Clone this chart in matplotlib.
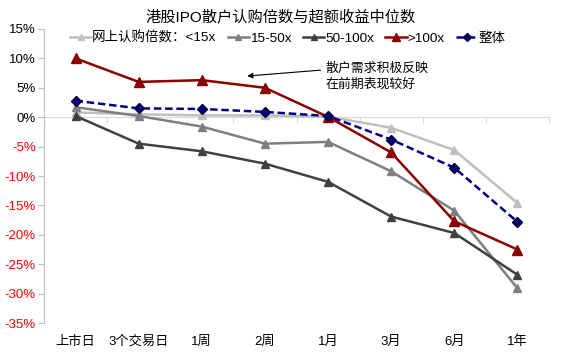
import matplotlib
matplotlib.use('Agg')
import matplotlib.pyplot as plt
import numpy as np

plt.rcParams['font.family'] = ['Liberation Sans', 'Noto Sans CJK SC', 'DejaVu Sans']

categories = ['上市日', '3个交易日', '1周', '2周', '1月', '3月', '6月', '1年']
lt15 = [0.8, 0.5, 0.3, 0.3, 0.1, -1.8, -5.6, -14.6]
s15_50 = [1.7, 0.2, -1.6, -4.5, -4.2, -9.2, -15.9, -29.1]
s50_100 = [0.2, -4.5, -5.8, -7.9, -11.0, -16.9, -19.7, -26.8]
gt100 = [10.0, 6.0, 6.3, 5.0, 0.05, -6.0, -17.7, -22.5]
overall = [2.8, 1.5, 1.4, 0.9, 0.2, -3.8, -8.6, -17.8]
yticks = [15, 10, 5, 0, -5, -10, -15, -20, -25, -30, -35]

fig = plt.figure(figsize=(5.62, 3.57), dpi=100)
ax = fig.add_axes([0.0783, 0.0952, 0.8986, 0.8236])
x = np.arange(len(categories))

ax.plot(x, lt15, '-^', color='#BFBFBF', lw=1.8, ms=6, label='网上认购倍数：<15x')
ax.plot(x, s15_50, '-^', color='#7F7F7F', lw=1.8, ms=6, label='15-50x')
ax.plot(x, s50_100, '-^', color='#404040', lw=1.8, ms=6, label='50-100x')
ax.plot(x, gt100, '-^', color='#8B0000', lw=1.8, ms=7, label='>100x')
ax.plot(x, overall, '--D', color='#000080', lw=1.8, ms=5.5, mec='#000033',
        dashes=(3, 1.5), label='整体')

ax.set_xlim(-0.5, len(categories) - 0.5)
ax.set_ylim(-35, 15)
ax.set_yticks(yticks)
ax.set_yticklabels([f'{v}%' for v in yticks], fontsize=9.5)
for lab, v in zip(ax.get_yticklabels(), yticks):
    lab.set_color('red' if v < 0 else 'black')
ax.set_xticks(x)
ax.set_xticklabels(categories, fontsize=9.5)
ax.tick_params(axis='x', length=0, pad=9)
ax.tick_params(axis='y', length=4, color='#BFBFBF', pad=2)

for s in ['top', 'right', 'bottom']:
    ax.spines[s].set_visible(False)
ax.spines['left'].set_color('#BFBFBF')

# zero line with category boundary ticks
zero = ax.secondary_xaxis(35 / 50)
zero.set_xticks(np.arange(len(categories) + 1) - 0.5)
zero.set_xticklabels([])
zero.tick_params(length=4, color='#D9D9D9', direction='in')
for s in zero.spines.values():
    s.set_color('#D9D9D9')

ax.text(3.96, 6.9, '散户需求积极反映\n在前期表现较好', fontsize=9.3, va='center',
        ha='left', linespacing=1.35)
ax.annotate('', xy=(2.72, 7.0), xytext=(3.88, 8.0),
            arrowprops=dict(arrowstyle='-|>', color='black', lw=0.8,
                            mutation_scale=8, shrinkA=0, shrinkB=0))

ax.legend(loc='center left', bbox_to_anchor=(0.051, 0.969), ncol=5, frameon=False,
          fontsize=9.7, handlelength=1.6, handletextpad=0.05, columnspacing=0.85,
          borderaxespad=0, borderpad=0, markerscale=0.8)

fig.suptitle('港股IPO散户认购倍数与超额收益中位数', fontsize=11, y=0.975)

fig.savefig('out.png', dpi=100)
